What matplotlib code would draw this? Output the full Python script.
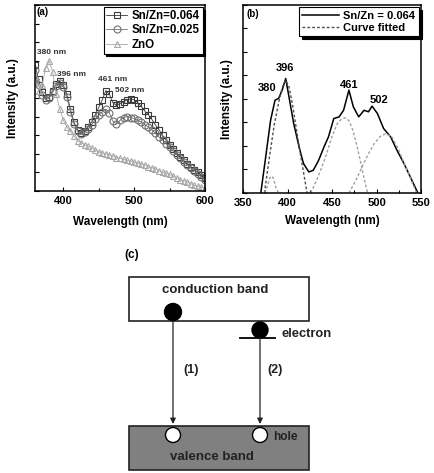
import numpy as np
import matplotlib
matplotlib.use("Agg")
import matplotlib.pyplot as plt
from matplotlib.ticker import MultipleLocator, NullFormatter
from matplotlib.patches import Rectangle, Circle

plt.rcParams['font.family'] = ['Liberation Sans', 'DejaVu Sans']
plt.rcParams['font.weight'] = 'bold'
plt.rcParams['axes.labelweight'] = 'bold'

# ---- panel (a) data (intensity in a.u., 0..1), 5 nm steps ----
wl_a = list(range(360, 601, 5))
sn064 = [0.68, 0.60, 0.53, 0.50, 0.505, 0.54, 0.575, 0.59, 0.57, 0.52, 0.44, 0.37, 0.33,
         0.31, 0.32, 0.345, 0.37, 0.41, 0.45, 0.49, 0.54, 0.52, 0.475, 0.46, 0.47, 0.48,
         0.49, 0.495, 0.49, 0.475, 0.455, 0.43, 0.41, 0.385, 0.355, 0.33, 0.30, 0.275,
         0.25, 0.225, 0.205, 0.185, 0.165, 0.145, 0.13, 0.115, 0.10, 0.085, 0.07]
sn025 = [0.65, 0.57, 0.515, 0.49, 0.50, 0.53, 0.565, 0.58, 0.56, 0.505, 0.425, 0.36, 0.32,
         0.305, 0.315, 0.335, 0.355, 0.385, 0.41, 0.425, 0.44, 0.42, 0.375, 0.36, 0.38,
         0.395, 0.40, 0.395, 0.39, 0.38, 0.37, 0.355, 0.345, 0.33, 0.31, 0.29, 0.275,
         0.255, 0.235, 0.215, 0.195, 0.175, 0.155, 0.14, 0.125, 0.11, 0.09, 0.075, 0.06]
zno = [0.62, 0.54, 0.57, 0.66, 0.70, 0.64, 0.52, 0.44, 0.38, 0.345, 0.32, 0.295, 0.27,
       0.26, 0.25, 0.24, 0.23, 0.22, 0.21, 0.205, 0.20, 0.195, 0.19, 0.18, 0.175, 0.17,
       0.165, 0.16, 0.155, 0.15, 0.145, 0.14, 0.13, 0.125, 0.12, 0.11, 0.10, 0.095, 0.09,
       0.08, 0.07, 0.06, 0.055, 0.05, 0.04, 0.03, 0.025, 0.02, 0.016]
peak_lbl_a = ["380 nm", "396 nm", "461 nm", "502 nm"]
peak_pos_a = [(363, 0.742), (391, 0.624), (449, 0.602), (473, 0.538)]

# ---- panel (b) data ----
wl_b = [370, 375, 381, 386, 390, 394, 398, 401, 407, 413, 418, 424, 429, 435, 441, 446,
        452, 458, 463, 469, 474, 480, 486, 491, 495, 501, 508, 516, 523, 531, 538, 546]
spec_b = [0.0, 0.174, 0.387, 0.494, 0.503, 0.547, 0.609, 0.529, 0.369, 0.245, 0.156, 0.112,
          0.121, 0.174, 0.245, 0.298, 0.396, 0.405, 0.44, 0.547, 0.458, 0.405, 0.44, 0.432,
          0.462, 0.423, 0.343, 0.298, 0.227, 0.156, 0.085, 0.005]
fit1_x = [374, 377, 380, 382, 384, 387, 390]
fit1_y = [0.0, 0.03, 0.08, 0.09, 0.08, 0.03, 0.0]
fit2_x = [374, 380, 385, 390, 394, 398, 402, 406, 410, 414, 418, 422]
fit2_y = [0.0, 0.2, 0.36, 0.48, 0.56, 0.60, 0.56, 0.46, 0.34, 0.22, 0.11, 0.0]
fit3_x = [426, 432, 438, 444, 450, 456, 461, 465, 469, 473, 477, 481, 485, 490]
fit3_y = [0.0, 0.06, 0.13, 0.21, 0.30, 0.37, 0.395, 0.40, 0.385, 0.34, 0.27, 0.19, 0.10, 0.0]
fit4_x = [469, 476, 483, 490, 497, 504, 510, 517, 524, 531, 538, 545]
fit4_y = [0.0, 0.06, 0.13, 0.20, 0.26, 0.30, 0.315, 0.30, 0.24, 0.16, 0.08, 0.0]
peak_lbl_b = ["380", "396", "461", "502"]
peak_pos_b = [(377, 0.558), (397, 0.665), (469, 0.574), (503, 0.495)]

W, H = 434, 473
fig = plt.figure(figsize=(W / 100, H / 100), dpi=100)


def style_axes(ax):
    for s in ax.spines.values():
        s.set_linewidth(1.1)
    ax.tick_params(direction='in', which='both', top=False, right=False,
                   labelsize=8, width=0.8)
    ax.tick_params(which='major', length=3)
    ax.tick_params(which='minor', length=2)
    ax.yaxis.set_major_formatter(NullFormatter())


# ---------------- panel (a) ----------------
axa = fig.add_axes([35 / W, 1 - 191 / H, 170 / W, 186 / H])
axa.plot(wl_a, sn064, '-s', color='#3a3a3a', mfc='none', ms=5, mew=0.8, lw=0.6,
         label='Sn/Zn=0.064')
axa.plot(wl_a, sn025, '-o', color='#707070', mfc='none', ms=5, mew=0.8, lw=0.6,
         label='Sn/Zn=0.025')
axa.plot(wl_a, zno, '-^', color='#a8a8a8', mfc='none', ms=5, mew=0.8, lw=0.6,
         label='ZnO')
axa.set_xlim(360, 600)
axa.set_ylim(0, 1)
axa.xaxis.set_major_locator(MultipleLocator(100))
axa.xaxis.set_minor_locator(MultipleLocator(50))
axa.yaxis.set_major_locator(MultipleLocator(0.1))
style_axes(axa)
axa.set_xlabel('Wavelength (nm)', fontsize=8.5, labelpad=7)
axa.set_ylabel('Intensity (a.u.)', fontsize=8.5, labelpad=8)
axa.text(0.01, 0.99, '(a)', transform=axa.transAxes, ha='left', va='top', fontsize=7)
for (x, y), lab in zip(peak_pos_a, peak_lbl_a):
    axa.text(x, y, lab, fontsize=6, ha='left', va='center', color='#333')
leg = axa.legend(loc='upper right', fontsize=8.3, frameon=True, fancybox=False,
                 edgecolor='black', framealpha=1, borderpad=0.25, labelspacing=0.2,
                 handlelength=1.8, handletextpad=0.4, borderaxespad=0.2,
                 shadow={'color': 'black', 'alpha': 1})
leg.get_frame().set_linewidth(0.8)

# ---------------- panel (b) ----------------
axb = fig.add_axes([243 / W, 1 - 193 / H, 178 / W, 188 / H])
axb.plot(wl_b, spec_b, '-', color='black', lw=1.1, label='Sn/Zn = 0.064')
axb.plot(fit2_x, fit2_y, '--', color='#505050', lw=1.0, dashes=(2, 1.5), label='Curve fitted')
for fx, fy in [(fit1_x, fit1_y), (fit3_x, fit3_y), (fit4_x, fit4_y)]:
    axb.plot(fx, fy, '--', color='#a0a0a0', lw=1.0, dashes=(2, 1.5))
axb.set_xlim(350, 550)
axb.set_ylim(0, 1)
axb.xaxis.set_major_locator(MultipleLocator(50))
axb.xaxis.set_minor_locator(MultipleLocator(25))
axb.yaxis.set_major_locator(MultipleLocator(0.125))
style_axes(axb)
axb.set_xlabel('Wavelength (nm)', fontsize=8.5, labelpad=5)
axb.set_ylabel('Intensity (a.u.)', fontsize=8.5, labelpad=4)
axb.text(0.02, 0.98, '(b)', transform=axb.transAxes, ha='left', va='top', fontsize=7)
for (x, y), lab in zip(peak_pos_b, peak_lbl_b):
    axb.text(x, y, lab, fontsize=8, ha='center', va='center')
leg = axb.legend(loc='upper right', fontsize=8, frameon=True, fancybox=False,
                 edgecolor='black', framealpha=1, borderpad=0.3, labelspacing=0.2,
                 handlelength=3.3, handletextpad=0.4, borderaxespad=0.2,
                 shadow={'color': 'black', 'alpha': 1})
leg.get_frame().set_linewidth(0.8)

# ---------------- panel (c): band diagram ----------------
axc = fig.add_axes([0, 0, 1, 1], zorder=-1)
axc.set_xlim(0, W)
axc.set_ylim(H, 0)
axc.axis('off')

box_l, box_r = 129, 309
cb_top, cb_bot = 277, 321
vb_top, vb_bot = 426, 470
x1, x2 = 173, 260
trap_y = 338

axc.text(124, 255, '(c)', fontsize=8.5, ha='left', va='center')
axc.add_patch(Rectangle((box_l, cb_top), box_r - box_l, cb_bot - cb_top,
                        fc='white', ec='#222', lw=1.2))
axc.add_patch(Rectangle((box_l, vb_top), box_r - box_l, vb_bot - vb_top,
                        fc='#808080', ec='#222', lw=1.2))
axc.text(215, 290, 'conduction band', fontsize=9.5, ha='center', va='center', color='#222')
axc.text(212, 457, 'valence band', fontsize=9.5, ha='center', va='center', color='#222')

# electrons
axc.add_patch(Circle((x1, 312), 8.5, fc='black', ec='black', zorder=3))
axc.add_patch(Circle((x2, 330), 8, fc='black', ec='black', zorder=3))
axc.plot([240, 275], [trap_y, trap_y], color='black', lw=1.3)
axc.text(282, 334, 'electron', fontsize=9.3, ha='left', va='center', color='#222')

# transitions
for x, ys, lab, lx in [(x1, cb_bot, '(1)', 191), (x2, trap_y, '(2)', 275)]:
    axc.annotate('', xy=(x, 424), xytext=(x, ys),
                 arrowprops=dict(arrowstyle='-|>', color='#222', lw=0.9,
                                 mutation_scale=8, shrinkA=0, shrinkB=0))
    axc.text(lx, 370, lab, fontsize=9, ha='center', va='center', color='#222')

# holes
axc.add_patch(Circle((x1, 435), 7.5, fc='white', ec='black', lw=1.0, zorder=3))
axc.add_patch(Circle((x2, 435), 7.5, fc='white', ec='black', lw=1.0, zorder=3))
axc.text(273, 437, 'hole', fontsize=8.5, ha='left', va='center', color='#222')

fig.savefig('out.png', dpi=100)
